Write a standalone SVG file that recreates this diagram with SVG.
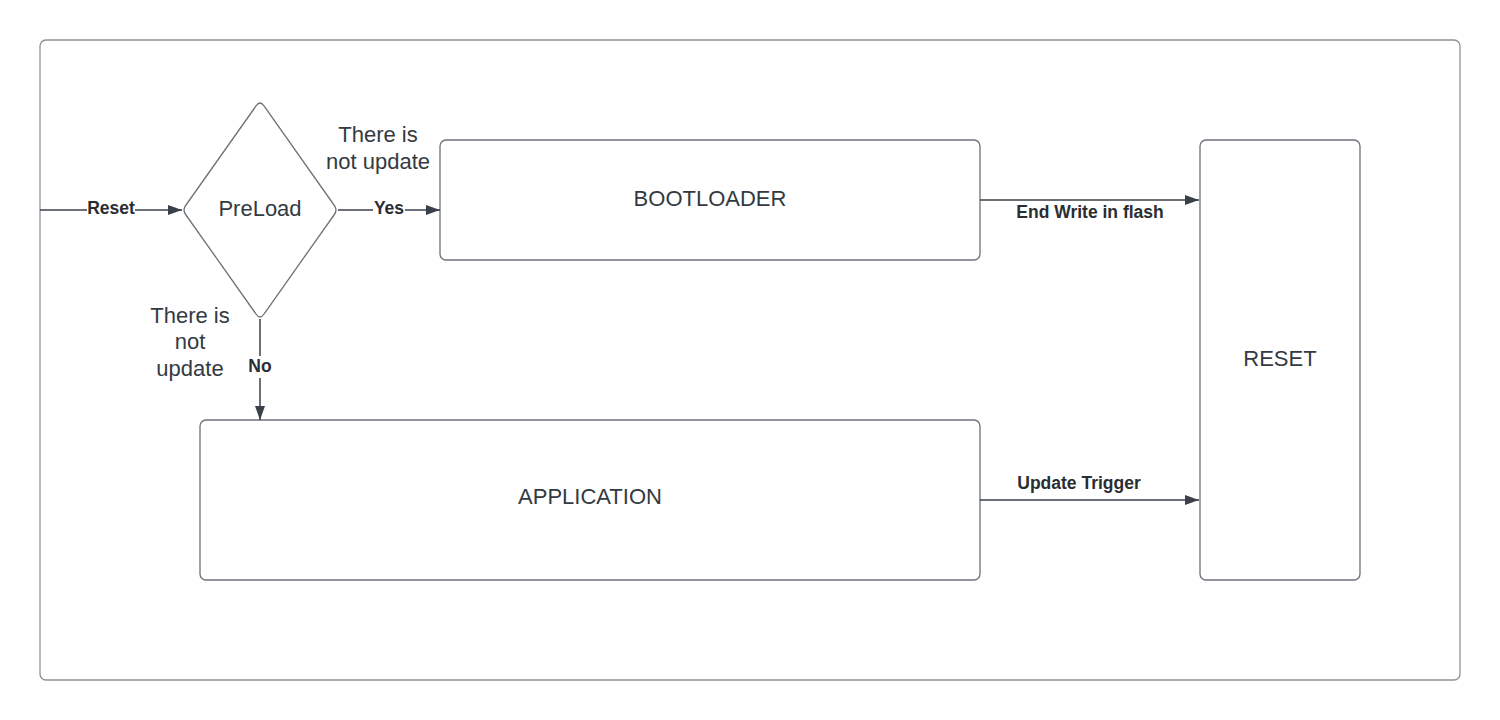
<svg xmlns="http://www.w3.org/2000/svg" width="1500" height="720" viewBox="0 0 1500 720">
<style>
.node{fill:#ffffff;stroke:#6c7078;stroke-width:1.3}
.lbl{font-family:"Liberation Sans",Arial,sans-serif;font-size:22px;fill:#333a42;text-anchor:middle}
.el{font-family:"Liberation Sans",Arial,sans-serif;font-size:17.5px;font-weight:bold;fill:#2a2e33;text-anchor:middle}
.conn{stroke:#3a4049;stroke-width:1.5;fill:none}
</style>
<defs>
<marker id="arr" viewBox="0 0 14 10" refX="14" refY="5" markerWidth="14" markerHeight="10" markerUnits="userSpaceOnUse" orient="auto">
<path d="M0,0 L14,5 L0,10 Z" fill="#3a4049"/>
</marker>
</defs>
<rect width="1500" height="720" fill="#ffffff"/>
<g id="frame"><rect x="40" y="40" width="1420" height="640" rx="6" fill="#ffffff" stroke="#8d9199" stroke-width="1.3"/></g>
<g id="preload">
<path class="node" d="M256,106 Q260,100 264,106 L334,205 Q338,210 334,215 L264,314 Q260,320 256,314 L186,215 Q182,210 186,205 Z"/>
<text class="lbl" x="260" y="216">PreLoad</text>
</g>
<g id="bootloader">
<rect class="node" x="440" y="140" width="540" height="120" rx="6"/>
<text class="lbl" x="710" y="206">BOOTLOADER</text>
</g>
<g id="application">
<rect class="node" x="200" y="420" width="780" height="160" rx="6"/>
<text class="lbl" x="590" y="504">APPLICATION</text>
</g>
<g id="reset">
<rect class="node" x="1200" y="140" width="160" height="440" rx="6"/>
<text class="lbl" x="1280" y="366">RESET</text>
</g>
<g id="connectors">
<line class="conn" x1="40" y1="210" x2="182" y2="210" marker-end="url(#arr)"/>
<line class="conn" x1="338" y1="210" x2="440" y2="210" marker-end="url(#arr)"/>
<line class="conn" x1="260" y1="319" x2="260" y2="420" marker-end="url(#arr)"/>
<line class="conn" x1="980" y1="200" x2="1199" y2="200" marker-end="url(#arr)"/>
<line class="conn" x1="980" y1="500" x2="1199" y2="500" marker-end="url(#arr)"/>
<rect x="87" y="200" width="48" height="20" fill="#ffffff"/>
<text class="el" x="111" y="214">Reset</text>
<rect x="373" y="200" width="32" height="20" fill="#ffffff"/>
<text class="el" x="389" y="214">Yes</text>
<rect x="245" y="356" width="30" height="22" fill="#ffffff"/>
<text class="el" x="260" y="372">No</text>
<text class="el" x="1090" y="218">End Write in flash</text>
<text class="el" x="1079" y="489">Update Trigger</text>
</g>
<g id="notes">
<text class="lbl" x="378" y="142">There is</text>
<text class="lbl" x="378" y="169">not update</text>
<text class="lbl" x="190" y="323">There is</text>
<text class="lbl" x="190" y="349">not</text>
<text class="lbl" x="190" y="376">update</text>
</g>
</svg>
